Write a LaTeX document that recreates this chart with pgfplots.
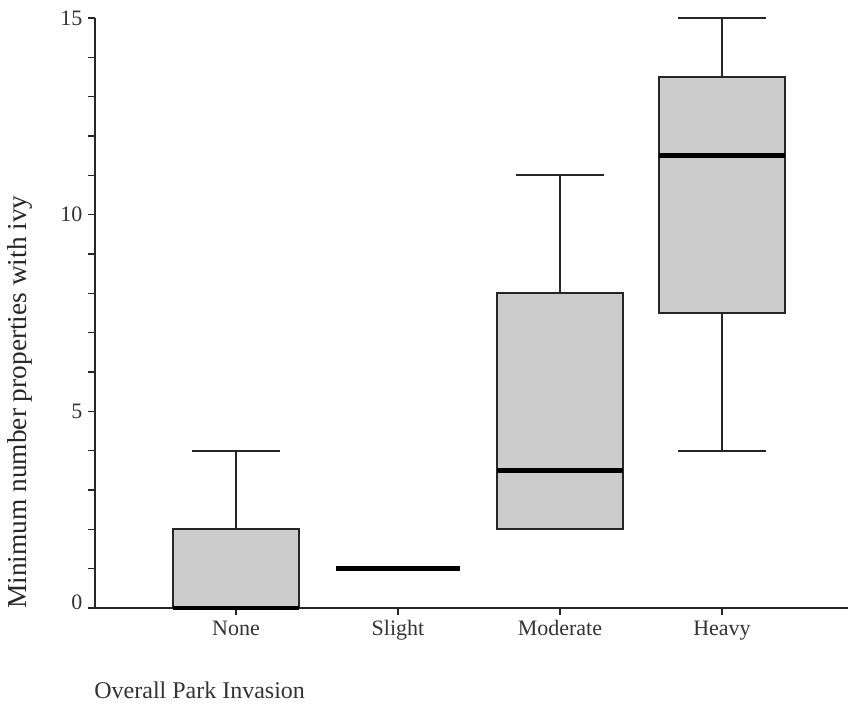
\documentclass[border=0pt]{standalone}
\usepackage{pgfplots}
\pgfplotsset{compat=1.18}
\usepgfplotslibrary{statistics}
\usepackage{fontspec}
\setmainfont{Liberation Serif}
\begin{document}
\begin{tikzpicture}
\begin{axis}[
  at={(0,0)}, anchor=south west,
  scale only axis, width=565pt, height=442.5pt,
  xmin=-0.87, xmax=3.78, ymin=0, ymax=15,
  clip=false,
  axis x line=bottom, axis y line=left,
  axis line style={-, line width=1.4pt, black!85},
  xtick={0,1,2,3}, xticklabels={None,Slight,Moderate,Heavy},
  ytick={0,5,10,15}, minor ytick={1,2,3,4,6,7,8,9,11,12,13,14},
  yticklabels={\raisebox{9pt}{0},5,10,15},
  tick align=outside,
  major tick length=5pt, minor tick length=5pt,
  tick style={line width=1.2pt, black!85},
  tick label style={font=\fontsize{16.5}{18}\selectfont, text=black!80},
  /pgf/number format/assume math mode=true,
  yticklabel style={xshift=-1pt},
  xticklabel style={yshift=-1pt},
  xlabel={Overall Park Invasion},
  xlabel style={at={(axis description cs:0,0)}, anchor=base west, xshift=-4pt, yshift=-68pt, font=\fontsize{18}{20}\selectfont, text=black!80},
  ylabel={Minimum number properties with ivy},
  ylabel style={at={(axis description cs:0,0.349)}, anchor=center, rotate=0, yshift=56pt, font=\fontsize{20.5}{23}\selectfont, text=black!85},
  boxplot/draw direction=y,
  boxplot/every box/.style={draw=black!85, fill=black!20, line width=1.4pt},
  boxplot/every whisker/.style={draw=black!85, line width=1.4pt},
  boxplot/every median/.style={draw=black, line width=3.6pt},
]
\addplot[boxplot prepared={lower whisker=0, lower quartile=0, median=0, upper quartile=2, upper whisker=4, draw position=0, box extend=0.78, whisker extend=0.54}] coordinates {};
\addplot[boxplot prepared={lower whisker=1, lower quartile=1, median=1, upper quartile=1, upper whisker=1, draw position=1, box extend=0.76, whisker extend=0.0}] coordinates {};
\addplot[boxplot prepared={lower whisker=2, lower quartile=2, median=3.5, upper quartile=8, upper whisker=11, draw position=2, box extend=0.78, whisker extend=0.54}] coordinates {};
\addplot[boxplot prepared={lower whisker=4, lower quartile=7.5, median=11.5, upper quartile=13.5, upper whisker=15, draw position=3, box extend=0.78, whisker extend=0.54}] coordinates {};
\end{axis}
\path[use as bounding box] (-71.25pt,-75pt) rectangle (567pt,456pt);
\end{tikzpicture}
\end{document}
